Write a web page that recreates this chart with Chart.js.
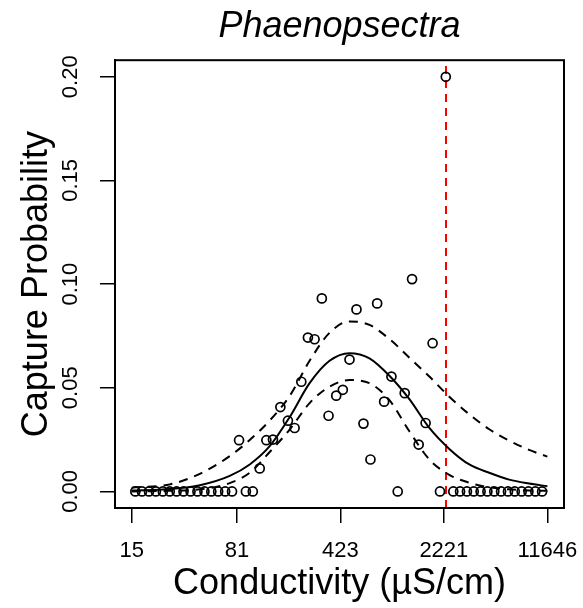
<!DOCTYPE html>
<html>
<head>
<meta charset="utf-8">
<script src="https://cdn.jsdelivr.net/npm/chart.js@4.4.1/dist/chart.umd.min.js"></script>
<style>
  body { margin: 0; background: #fff; }
</style>
</head>
<body>
<canvas id="chart" width="583" height="608"></canvas>
<script>
// observed capture probability per conductivity bin
const conductivity = [
  15.9, 17.7, 19.8, 22.1, 24.7, 27.6, 30.8, 34.4, 38.5, 43.0, 48.1, 53.7, 59.9, 67.0, 74.8,
  83.7, 93.4, 104.3, 116.5, 129.6, 144.0, 162.2, 183.0, 203.7, 226.8, 252.0, 280.4, 315.0, 350.7, 396.6,
  440.7, 490.5, 548.4, 613.3, 685.9, 763.5, 853.8, 959.6, 1061, 1187, 1335, 1484, 1659, 1855, 2088,
  2291, 2583, 2879, 3214, 3583, 4000, 4460, 4978, 5550, 6198, 6909, 7713, 8599, 9601, 10703
];
const captureProb = [
  0, 0, 0, 0, 0, 0, 0, 0, 0, 0, 0, 0, 0, 0, 0,
  0.0247, 0, 0, 0.0111, 0.0247, 0.0250, 0.0407, 0.0341, 0.0306, 0.0529, 0.0742, 0.0734, 0.0931, 0.0365, 0.0462,
  0.0490, 0.0636, 0.0878, 0.0327, 0.0154, 0.0907, 0.0433, 0.0554, 0, 0.0474, 0.1024, 0.0226, 0.0330, 0.0715, 0,
  0.2000, 0, 0, 0, 0, 0, 0, 0, 0, 0, 0, 0, 0, 0, 0
];

// fitted curve and confidence band
const curveConductivity = [15, 27.7, 44.7, 72.1, 99.3, 136.7, 188.1, 258.9, 356.3, 490.5,
  675.0, 929.4, 1279, 1761, 2423, 3336, 4590, 6318, 8697, 11646];
const fitProb = [0.0004, 0.0012, 0.0030, 0.0075, 0.0130, 0.0218, 0.0358, 0.0522, 0.0630, 0.0667,
  0.0642, 0.0558, 0.0445, 0.0306, 0.0205, 0.0130, 0.0090, 0.0057, 0.0038, 0.0025];
const upperProb = [0.0018, 0.0034, 0.0085, 0.0170, 0.0248, 0.0342, 0.0460, 0.0630, 0.0765, 0.0820,
  0.0803, 0.0735, 0.0645, 0.0554, 0.0457, 0.0372, 0.0300, 0.0245, 0.0200, 0.0168];
const lowerProb = [0.0000, 0.0003, 0.0010, 0.0040, 0.0090, 0.0190, 0.0298, 0.0426, 0.0505, 0.0537,
  0.0522, 0.0440, 0.0290, 0.0154, 0.0080, 0.0042, 0.0020, 0.0010, 0.0005, 0.0003];

const thresholdConductivity = 2298;

const xTickLabels = [15, 81, 423, 2221, 11646];
const yTickLabels = [0, 0.05, 0.10, 0.15, 0.20];

const fontFamily = "'Liberation Sans', Arial, Helvetica, sans-serif";

function curve(ys) {
  return curveConductivity.map((c, i) => ({ x: c, y: ys[i] }));
}

const lineStyle = {
  type: 'line',
  borderColor: '#000',
  borderWidth: 2,
  pointRadius: 0,
  fill: false,
  cubicInterpolationMode: 'monotone'
};

// R-style box around the plot region, title centred over it
const boxPlugin = {
  id: 'box',
  afterLayout(chart) {
    const t = chart.titleBlock;
    if (t) {
      t.left = chart.chartArea.left;
      t.right = chart.chartArea.right;
      t.width = t.right - t.left;
    }
  },
  afterDraw(chart) {
    const { ctx, chartArea: a } = chart;
    ctx.save();
    ctx.strokeStyle = '#000';
    ctx.lineWidth = 2;
    ctx.strokeRect(a.left, a.top, a.right - a.left, a.bottom - a.top);
    ctx.restore();
  }
};

new Chart(document.getElementById('chart'), {
  type: 'scatter',
  data: {
    datasets: [
      {
        label: 'Observed',
        data: conductivity.map((c, i) => ({ x: c, y: captureProb[i] })),
        pointRadius: 4.5,
        pointBorderWidth: 1.7,
        borderColor: '#000',
        backgroundColor: 'rgba(0,0,0,0)'
      },
      Object.assign({ label: 'Fit', data: curve(fitProb) }, lineStyle),
      Object.assign({ label: 'Upper', data: curve(upperProb), borderDash: [9, 7] }, lineStyle),
      Object.assign({ label: 'Lower', data: curve(lowerProb), borderDash: [9, 7] }, lineStyle),
      {
        type: 'line',
        label: 'Threshold',
        data: [{ x: thresholdConductivity, y: -0.008 }, { x: thresholdConductivity, y: 0.208 }],
        borderColor: '#ff0000',
        borderWidth: 2,
        borderDash: [8, 6],
        pointRadius: 0
      }
    ]
  },
  options: {
    responsive: false,
    animation: false,
    events: [],
    layout: { padding: { left: 0, right: 19, top: 0, bottom: 0 } },
    plugins: {
      legend: { display: false },
      tooltip: { enabled: false },
      title: {
        display: true,
        text: 'Phaenopsectra',
        color: '#000',
        font: { family: fontFamily, size: 36, style: 'italic', weight: 'normal' },
        padding: { top: 5, bottom: 12 }
      }
    },
    scales: {
      x: {
        type: 'logarithmic',
        min: 11.49,
        max: 15198,
        afterBuildTicks: s => { s.ticks = xTickLabels.map(v => ({ value: v })); },
        afterFit: s => { s.height = 100; s.paddingLeft = 0; s.paddingRight = 0; },
        ticks: {
          callback: v => String(v),
          autoSkip: false,
          maxRotation: 0,
          color: '#000',
          padding: 15,
          font: { family: fontFamily, size: 22 }
        },
        grid: { drawOnChartArea: false, tickLength: 15, color: '#000', lineWidth: 1.5 },
        border: { color: '#000', width: 2 },
        title: {
          display: true,
          text: 'Conductivity (µS/cm)',
          color: '#000',
          font: { family: fontFamily, size: 36 },
          padding: { top: 0, bottom: 2 }
        }
      },
      y: {
        min: -0.008,
        max: 0.208,
        afterBuildTicks: s => { s.ticks = yTickLabels.map(v => ({ value: v })); },
        afterFit: s => { s.width = 115; s.paddingTop = 0; s.paddingBottom = 0; },
        ticks: {
          callback: v => v.toFixed(2),
          minRotation: 90,
          maxRotation: 90,
          crossAlign: 'center',
          color: '#000',
          padding: 8,
          font: { family: fontFamily, size: 22 }
        },
        grid: { drawOnChartArea: false, tickLength: 15, color: '#000', lineWidth: 1.5 },
        border: { color: '#000', width: 2 },
        title: {
          display: true,
          text: 'Capture Probability',
          color: '#000',
          font: { family: fontFamily, size: 36 },
          padding: { top: 15, bottom: 0 }
        }
      }
    }
  },
  plugins: [boxPlugin]
});
</script>
</body>
</html>
